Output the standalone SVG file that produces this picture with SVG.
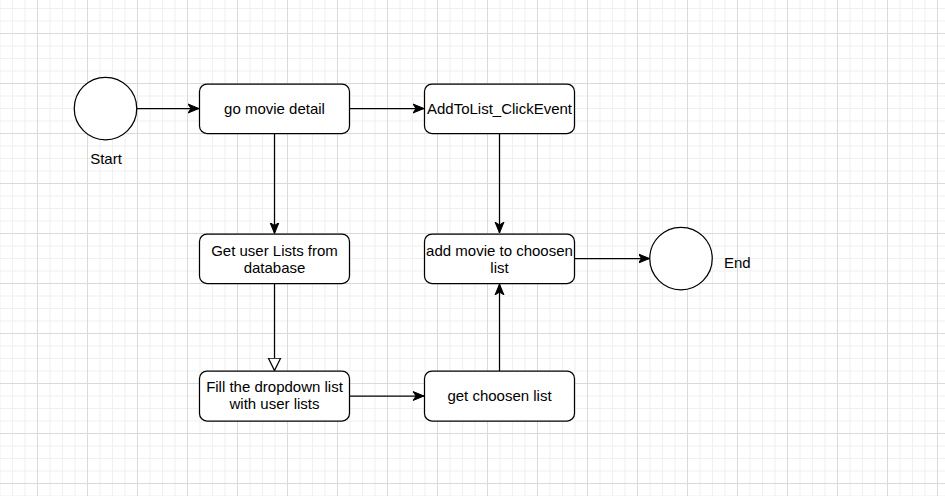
<svg xmlns="http://www.w3.org/2000/svg" width="945" height="496" viewBox="0 0 945 496">
<style>
.box{fill:#fff;stroke:#000;stroke-width:1.25}
.t{font-family:"Liberation Sans",Arial,sans-serif;font-size:15px;fill:#000;text-anchor:middle}
.e{fill:none;stroke:#000;stroke-width:1.25}
</style>
<defs>
<pattern id="grid" patternUnits="userSpaceOnUse" x="37" y="33" width="50" height="50">
<rect width="50" height="50" fill="#fff"/>
<path d="M13 0V50M25.5 0V50M38 0V50M0 13H50M0 25.5H50M0 38H50" stroke="#f0f0f0" stroke-width="1"/>
<path d="M0.5 0V50M0 0.5H50" stroke="#dadada" stroke-width="1"/>
</pattern>
<marker id="arr" markerUnits="userSpaceOnUse" markerWidth="14" markerHeight="12" refX="11" refY="6" orient="auto" viewBox="0 0 14 12">
<path d="M0,1.5 L11,6 L0,10.5 L3,6 Z" fill="#000" stroke="#000" stroke-width="1"/>
</marker>
<marker id="open" markerUnits="userSpaceOnUse" markerWidth="16" markerHeight="16" refX="13" refY="8" orient="auto" viewBox="0 0 16 16">
<path d="M0.5,1.8 L13,8 L0.5,14.2 Z" fill="#fff" stroke="#000" stroke-width="1.25"/>
</marker>
</defs>
<rect width="945" height="496" fill="url(#grid)"/>
<g id="connectors">
<path class="e" d="M137 108.5H199" marker-end="url(#arr)"/>
<path class="e" d="M349.5 108.5H424" marker-end="url(#arr)"/>
<path class="e" d="M274.5 133.5V233.5" marker-end="url(#arr)"/>
<path class="e" d="M274.5 283.5V370.5" marker-end="url(#open)"/>
<path class="e" d="M349.5 396H424" marker-end="url(#arr)"/>
<path class="e" d="M499.5 133.5V233" marker-end="url(#arr)"/>
<path class="e" d="M499.5 371V284" marker-end="url(#arr)"/>
<path class="e" d="M574.5 258.5H649.5" marker-end="url(#arr)"/>
</g>
<g id="start">
<circle class="box" cx="105.5" cy="108.5" r="31.25"/>
<text class="t" x="106" y="163.5">Start</text>
</g>
<g id="go-movie-detail">
<rect class="box" x="199.5" y="84" width="150" height="49.5" rx="7.5"/>
<text class="t" x="274.5" y="114">go movie detail</text>
</g>
<g id="addtolist">
<rect class="box" x="424.5" y="84" width="150" height="49.5" rx="7.5"/>
<text class="t" x="499.5" y="114">AddToList_ClickEvent</text>
</g>
<g id="get-user-lists">
<rect class="box" x="199.5" y="234" width="150" height="49.5" rx="7.5"/>
<text class="t" x="274.5" y="256">Get user Lists from</text>
<text class="t" x="274.5" y="273">database</text>
</g>
<g id="add-movie">
<rect class="box" x="424.5" y="234" width="150" height="49.5" rx="7.5"/>
<text class="t" x="499.5" y="255.5">add movie to choosen</text>
<text class="t" x="499.5" y="272.5">list</text>
</g>
<g id="fill-dropdown">
<rect class="box" x="199.5" y="371" width="150" height="50" rx="7.5"/>
<text class="t" x="274.5" y="392">Fill the dropdown list</text>
<text class="t" x="274.5" y="409">with user lists</text>
</g>
<g id="get-choosen">
<rect class="box" x="424.5" y="371" width="150" height="50" rx="7.5"/>
<text class="t" x="499.5" y="401">get choosen list</text>
</g>
<g id="end">
<circle class="box" cx="681" cy="258.5" r="31.25"/>
<text class="t" x="724" y="268" style="text-anchor:start">End</text>
</g>
</svg>
